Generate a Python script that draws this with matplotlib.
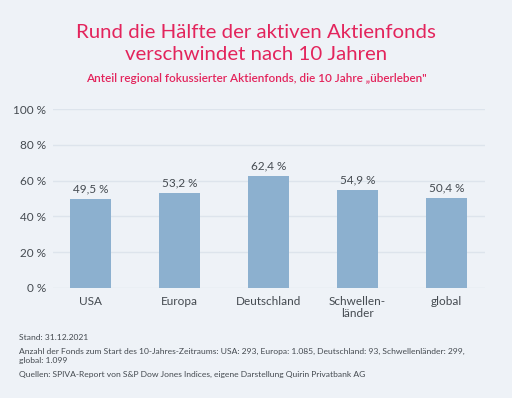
import matplotlib
matplotlib.use("Agg")
import matplotlib.pyplot as plt

# Data
regions = ["USA", "Europa", "Deutschland", "Schwellen-\nländer", "global"]
shares = [49.5, 53.2, 62.4, 54.9, 50.4]
yticks = [0, 20, 40, 60, 80, 100]

bg = "#eef2f7"
red = "#e3245c"
bar_color = "#8cb0cf"
text_color = "#444a50"

plt.rcParams["font.family"] = ["Lato", "DejaVu Sans"]

fig = plt.figure(figsize=(5.12, 3.98), dpi=100, facecolor=bg)
ax = fig.add_axes([53 / 512, 1 - 288 / 398, (485 - 53) / 512, (288 - 109) / 398])
ax.set_facecolor(bg)

x = list(range(len(regions)))
ax.bar(x, shares, width=0.46, color=bar_color, zorder=3)

for xi, v in zip(x, shares):
    ax.text(xi, v + 2.5, f"{v:.1f} %".replace(".", ","), ha="center", va="bottom",
            fontsize=8.5, color=text_color)

ax.set_xlim(-0.42, 4.43)
ax.set_ylim(0, 100)
ax.set_yticks(yticks)
ax.set_yticklabels([f"{t} %" for t in yticks])
ax.set_xticks(x)
ax.set_xticklabels(regions, linespacing=1.1)
ax.tick_params(axis="both", length=0, labelsize=8.5, colors=text_color)
ax.tick_params(axis="y", pad=5)
ax.tick_params(axis="x", pad=6)
ax.yaxis.grid(True, color="#dde4ec", linewidth=1, zorder=0)
for s in ax.spines.values():
    s.set_visible(False)

# Title and subtitle
fig.text(0.5, 1 - 32 / 398, "Rund die Hälfte der aktiven Aktienfonds", ha="center", va="center",
         fontsize=14.7, color=red)
fig.text(0.5, 1 - 55 / 398, "verschwindet nach 10 Jahren", ha="center", va="center",
         fontsize=14.7, color=red)
fig.text(0.5, 1 - 79 / 398, "Anteil regional fokussierter Aktienfonds, die 10 Jahre „überleben\"",
         ha="center", va="center", fontsize=8.5, color=red, fontweight="semibold")

# Footer
footer = [
    (337, "Stand: 31.12.2021"),
    (351, "Anzahl der Fonds zum Start des 10-Jahres-Zeitraums: USA: 293, Europa: 1.085, Deutschland: 93, Schwellenländer: 299,"),
    (361, "global: 1.099"),
    (374, "Quellen: SPIVA-Report von S&P Dow Jones Indices, eigene Darstellung Quirin Privatbank AG"),
]
for y, t in footer:
    fig.text(19 / 512, 1 - y / 398, t, ha="left", va="center", fontsize=6.1, color=text_color)

fig.savefig("out.png", dpi=100, facecolor=bg)
